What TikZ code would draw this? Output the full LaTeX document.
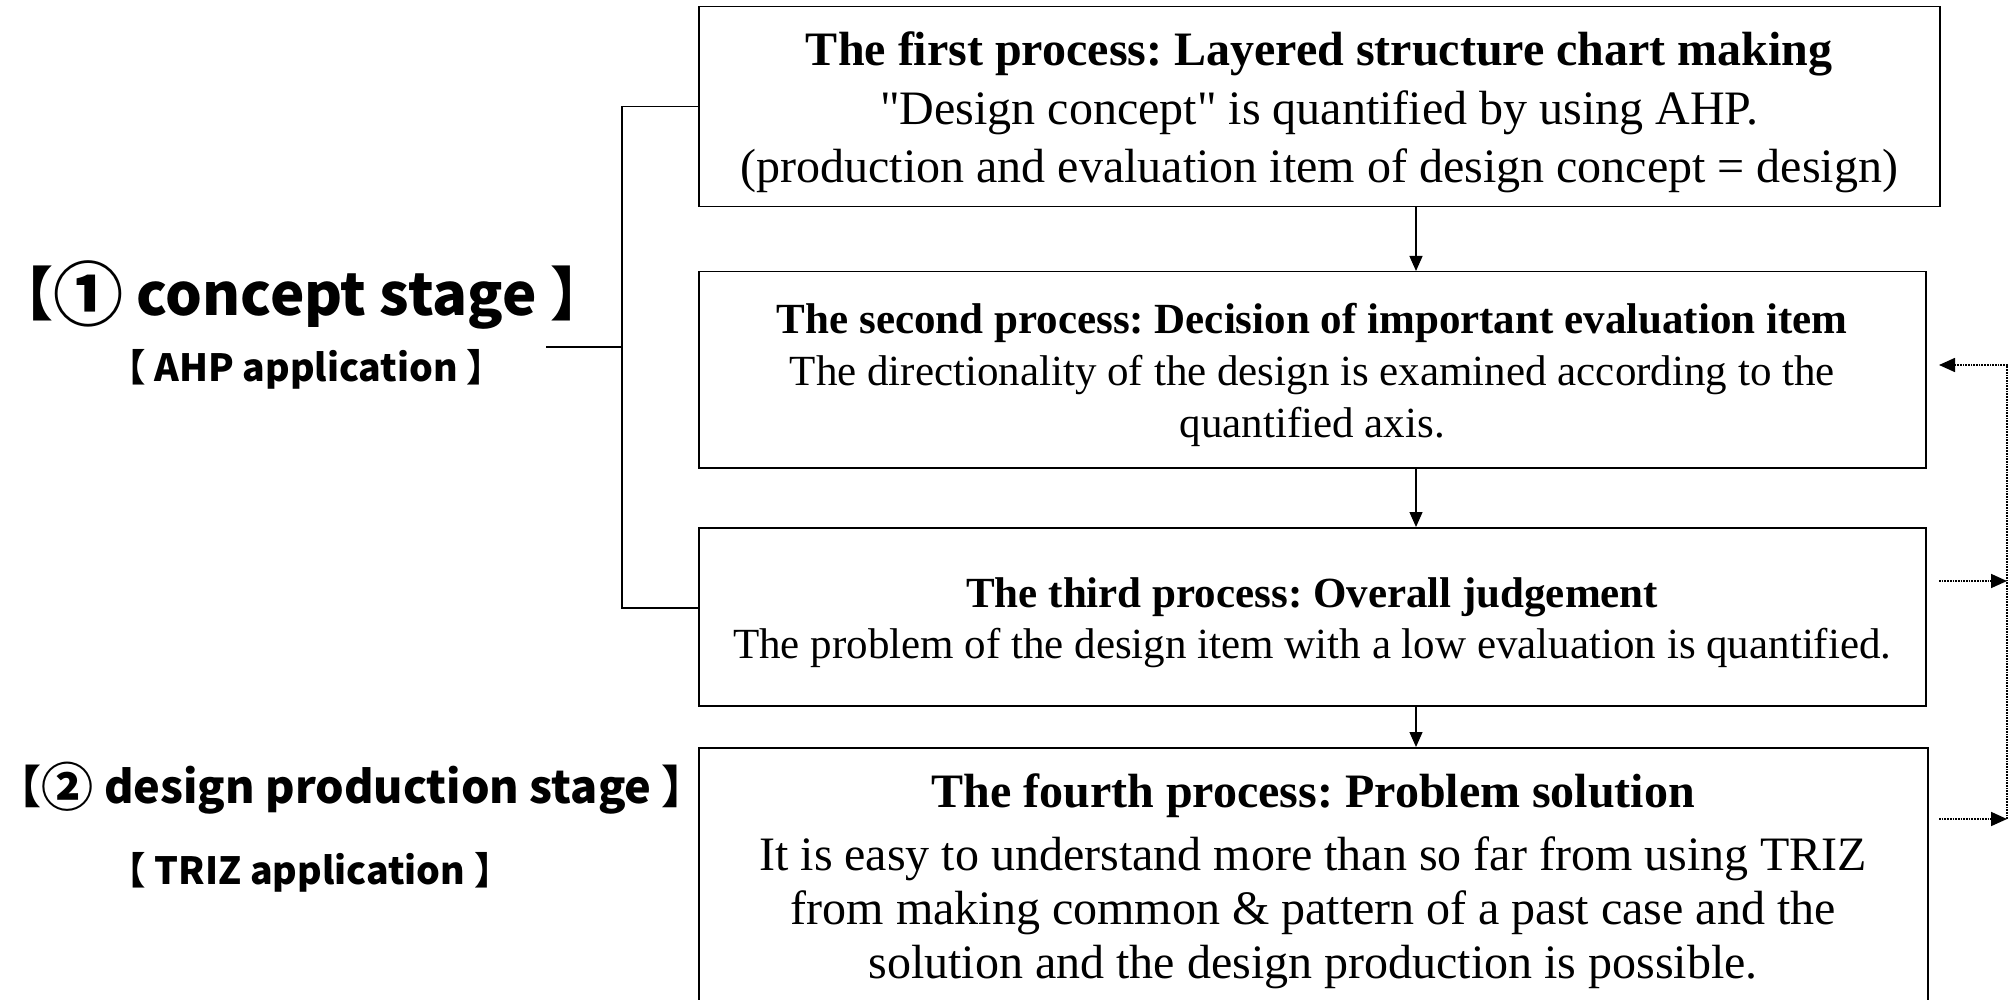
\documentclass[tikz,border=0pt]{standalone}
\usepackage{fontspec}
\setmainfont{Liberation Serif}
\newfontfamily\jp[RawFeature=+halt]{Noto Sans CJK JP}
\usetikzlibrary{arrows.meta,calc}
\tikzset{
  procbox/.style={draw, line width=1.5pt, anchor=north west, inner sep=0pt},
  proctext/.style={align=center, inner sep=0pt},
  flow/.style={line width=1.3pt, -{Triangle[length=15pt,width=13pt]}},
  fb/.style={line width=1.7pt, densely dotted},
  fbarrow/.style={fb, -{Triangle[length=16pt,width=14pt]}},
  bracketline/.style={line width=1.4pt},
  stagelabel/.style={inner sep=0pt, anchor=west},
}
\begin{document}
\frenchspacing
\begin{tikzpicture}[x=1pt,y=-1pt]
\useasboundingbox (0,0) rectangle (2016,1000);
% process boxes
\node[procbox, minimum width=1241pt, minimum height=200pt] (b1) at (698,6) {};
\node[procbox, minimum width=1227pt, minimum height=196pt] (b2) at (698,271) {};
\node[procbox, minimum width=1227pt, minimum height=178pt] (b3) at (698,527) {};
\node[procbox, minimum width=1229pt, minimum height=262pt] (b4) at (698,747) {};
% texts
\node[proctext, font=\fontsize{48}{58.5}\selectfont] (t1) at ($(b1.center)+(0,6)$)
  {\textbf{The first process: Layered structure chart making}\\
   \textquotedbl Design concept\textquotedbl{} is quantified by using AHP.\\
   (production and evaluation item of design concept = design)};
\node[proctext, font=\fontsize{43}{52}\selectfont] (t2) at ($(b2.center)+(0,5)$)
  {\textbf{The second process: Decision of important evaluation item}\\
   The directionality of the design is examined according to the\\
   quantified axis.};
\node[proctext, font=\fontsize{43}{51}\selectfont] (t3) at ($(b3.center)+(0,6)$)
  {\textbf{The third process: Overall judgement}\\
   The problem of the design item with a low evaluation is quantified.};
\node[proctext, font=\fontsize{48}{54}\selectfont] (t4) at ($(b4.center)+(0,3)$)
  {\textbf{The fourth process: Problem solution}\\[9pt]
   It is easy to understand more than so far from using TRIZ\\
   from making common \& pattern of a past case and the\\
   solution and the design production is possible.};
% flow arrows
\draw[flow] (b1.south -| 1416,0) -- (b2.north -| 1416,0);
\draw[flow] (b2.south -| 1416,0) -- (b3.north -| 1416,0);
\draw[flow] (b3.south -| 1416,0) -- (b4.north -| 1416,0);
% stage labels
\node[stagelabel, font=\jp\bfseries\fontsize{58}{58}\selectfont] (s1) at (24,295)
  {【\raisebox{-5pt}{\fontsize{70}{70}\selectfont ①} concept stage 】};
\node[stagelabel, font=\jp\bfseries\fontsize{37.5}{37.5}\selectfont] (a1) at (127,369) {【 AHP application 】};
\node[stagelabel, font=\jp\bfseries\fontsize{45}{45}\selectfont] (s2) at (19,788)
  {【\raisebox{-3pt}{\fontsize{52}{52}\selectfont ②} design production stage 】};
\node[stagelabel, font=\jp\bfseries\fontsize{37.5}{37.5}\selectfont] (a2) at (127,872) {【 TRIZ application 】};
% bracket
\coordinate (lk) at (546,347);
\coordinate (bk) at (622,347);
\coordinate (c3) at (698,608);
\draw[bracketline] (b1.west) -| (bk) |- (c3);
\draw[bracketline] (lk) -- (bk);
% feedback dotted
\coordinate (fin) at (1939,365);
\coordinate (f3) at (1939,581);
\coordinate (f4) at (1939,819);
\coordinate (v3) at (2007,581);
\coordinate (v4) at (2007,819);
\coordinate (vt) at (2007,365);
\draw[fbarrow] (f3) -- (v3);
\draw[fbarrow] (f4) -- (v4);
\draw[fbarrow] (v4) -- (vt) -- (fin);
\end{tikzpicture}
\end{document}
